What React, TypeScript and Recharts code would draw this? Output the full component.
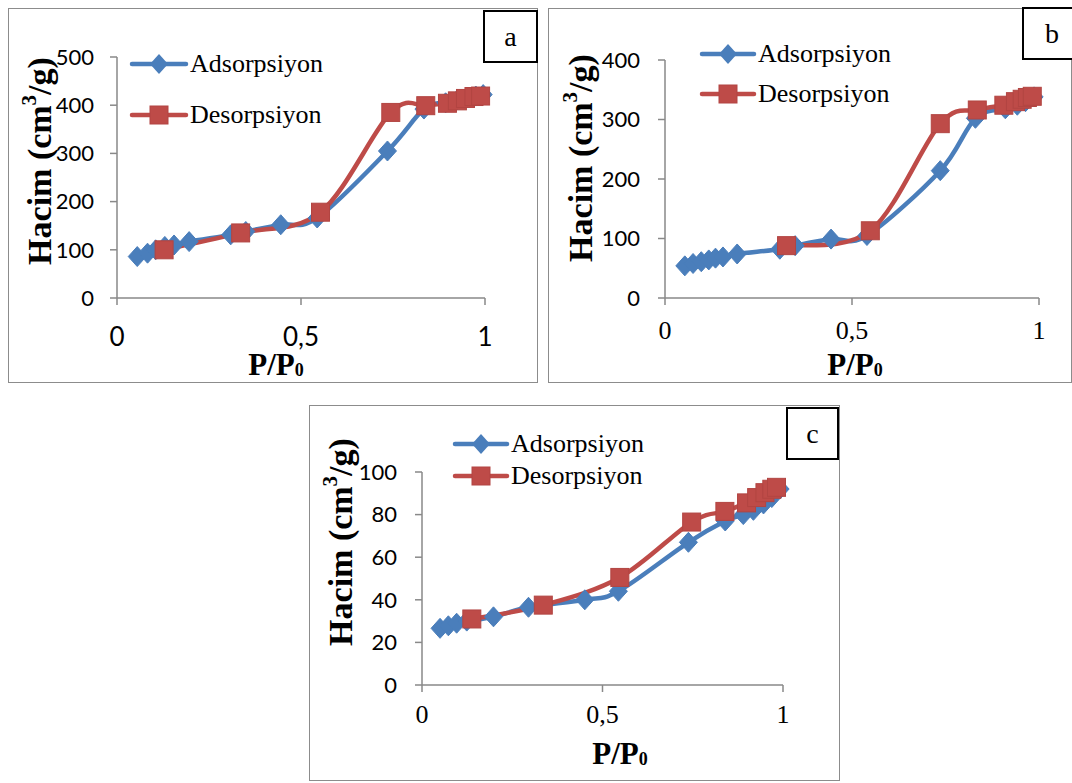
import React from 'react';
import { LineChart, Line, XAxis, YAxis, Legend } from 'recharts';

// ---------- data ----------
const xTicks = [0, 0.5, 1];
const seriesNames = ['Adsorpsiyon', 'Desorpsiyon'];
const panelLetters = ['a', 'b', 'c'];

const aYTicks = [0, 100, 200, 300, 400, 500];
const aAdsX = [0.055, 0.083, 0.105, 0.13, 0.155, 0.196, 0.309, 0.35, 0.445, 0.544, 0.735, 0.834, 0.893, 0.925, 0.952, 0.975, 0.995];
const aAdsY = [86, 93, 100, 107, 110, 117, 131, 138, 152, 166, 305, 392, 405, 411, 416, 419, 422];
const aDesX = [0.128, 0.336, 0.553, 0.744, 0.839, 0.898, 0.925, 0.947, 0.97, 0.988];
const aDesY = [100, 135, 178, 385, 399, 404, 409, 414, 418, 419];

const bYTicks = [0, 100, 200, 300, 400];
const bAdsX = [0.053, 0.075, 0.097, 0.117, 0.135, 0.155, 0.193, 0.307, 0.348, 0.444, 0.54, 0.736, 0.83, 0.91, 0.942, 0.964, 0.987];
const bAdsY = [54, 58, 61, 64, 67, 69, 74, 82, 88, 99, 105, 214, 302, 318, 324, 330, 338];
const bDesX = [0.325, 0.549, 0.736, 0.835, 0.906, 0.937, 0.955, 0.969, 0.982];
const bDesY = [88, 113, 293, 316, 324, 330, 334, 337, 339];

const cYTicks = [0, 20, 40, 60, 80, 100];
const cAdsX = [0.05, 0.073, 0.096, 0.124, 0.198, 0.295, 0.451, 0.544, 0.738, 0.84, 0.89, 0.918, 0.946, 0.969, 0.992];
const cAdsY = [26.6, 27.8, 29, 30, 32, 36.5, 40, 44, 67, 77, 80, 82, 85, 88, 92];
const cDesX = [0.138, 0.336, 0.548, 0.747, 0.839, 0.899, 0.927, 0.95, 0.969, 0.982];
const cDesY = [31, 37.5, 50.5, 76.5, 81.5, 85.5, 88, 90.3, 91.9, 92.8];

// ---------- styles ----------
const BLUE = '#4A7EBB';
const RED = '#BE4B48';
const AXIS = '#898989';
const SERIF = '"Liberation Serif", "Times New Roman", serif';
const SANS = 'Lato, "Open Sans", sans-serif';

const zip = (xs: number[], ys: number[]) => xs.map((x, i) => ({ x, y: ys[i] }));
const fmt = (v: number) => String(v).replace('.', ',');

// Excel-style smoothed line (Catmull-Rom like Bezier) as a d3 curve factory
const excelSmooth = (context: any) => {
  let pts: number[][] = [];
  return {
    areaStart() {},
    areaEnd() {},
    lineStart() {
      pts = [];
    },
    lineEnd() {
      const n = pts.length;
      if (n === 0) return;
      context.moveTo(pts[0][0], pts[0][1]);
      for (let i = 0; i < n - 1; i++) {
        const p0 = pts[Math.max(i - 1, 0)];
        const p1 = pts[i];
        const p2 = pts[i + 1];
        const p3 = pts[Math.min(i + 2, n - 1)];
        const k = 1 / 6;
        context.bezierCurveTo(
          p1[0] + (p2[0] - p0[0]) * k,
          p1[1] + (p2[1] - p0[1]) * k,
          p2[0] - (p3[0] - p1[0]) * k,
          p2[1] - (p3[1] - p1[1]) * k,
          p2[0],
          p2[1],
        );
      }
    },
    point(x: number, y: number) {
      pts.push([+x, +y]);
    },
  };
};

const Diamond = (props: any) => {
  const { cx, cy, index } = props;
  if (cx == null || cy == null) return <g key={`d${index}`} />;
  return (
    <polygon
      key={`d${index}`}
      points={`${cx},${cy - 10} ${cx + 9},${cy} ${cx},${cy + 10} ${cx - 9},${cy}`}
      fill={BLUE}
      stroke={BLUE}
      strokeWidth={1}
    />
  );
};

const Square = (props: any) => {
  const { cx, cy, index } = props;
  if (cx == null || cy == null) return <g key={`s${index}`} />;
  return <rect key={`s${index}`} x={cx - 9} y={cy - 9} width={18} height={18} fill={RED} stroke="#B24542" strokeWidth={1} />;
};

type Panel = {
  left: number; top: number; w: number; h: number;
  margin: { top: number; right: number; bottom: number; left: number };
  yMax: number; yTicks: number[];
  adsX: number[]; adsY: number[]; desX: number[]; desY: number[];
  xTickFont: string; xTickSize: number; xTickMargin: number; yTickMargin: number;
  yLabel: [number, number]; xLabel: [number, number];
  legend: { left: number; top: number; row: number; line: number };
  box: { left: number; top: number; w: number; h: number };
  letter: string;
};

const panels: Panel[] = [
  {
    left: 8, top: 8, w: 530, h: 375,
    margin: { top: 49, right: 53, bottom: 45, left: 49 },
    yMax: 500, yTicks: aYTicks,
    adsX: aAdsX, adsY: aAdsY, desX: aDesX, desY: aDesY,
    xTickFont: SANS, xTickSize: 26, xTickMargin: 23, yTickMargin: 16,
    yLabel: [31, 153], xLabel: [268, 367],
    legend: { left: 122, top: 30, row: 51, line: 58 },
    box: { left: 483, top: 10, w: 55, h: 53 },
    letter: panelLetters[0],
  },
  {
    left: 548, top: 8, w: 524, h: 375,
    margin: { top: 52, right: 33, bottom: 45, left: 57 },
    yMax: 400, yTicks: bYTicks,
    adsX: bAdsX, adsY: bAdsY, desX: bDesX, desY: bDesY,
    xTickFont: SERIF, xTickSize: 26, xTickMargin: 16, yTickMargin: 18,
    yLabel: [32, 150], xLabel: [307, 367],
    legend: { left: 152, top: 26, row: 40, line: 56 },
    box: { left: 1022, top: 7, w: 60, h: 53 },
    letter: panelLetters[1],
  },
  {
    left: 309, top: 405, w: 531, h: 376,
    margin: { top: 67, right: 57, bottom: 56, left: 53 },
    yMax: 100, yTicks: cYTicks,
    adsX: cAdsX, adsY: cAdsY, desX: cDesX, desY: cDesY,
    xTickFont: SERIF, xTickSize: 26, xTickMargin: 13, yTickMargin: 18,
    yLabel: [31, 137], xLabel: [311, 359],
    legend: { left: 144, top: 23, row: 32, line: 56 },
    box: { left: 786, top: 407, w: 53, h: 53 },
    letter: panelLetters[2],
  },
];

const LegendIcon = ({ kind, len }: { kind: number; len: number }) => {
  const c = len / 2;
  return (
    <svg width={len} height={22} style={{ display: 'block', overflow: 'visible' }}>
      <line x1={2} y1={11} x2={len - 2} y2={11} stroke={kind === 0 ? BLUE : RED} strokeWidth={4.5} strokeLinecap="round" />
      {kind === 0 ? (
        <polygon points={`${c},1 ${c + 9},11 ${c},21 ${c - 9},11`} fill={BLUE} />
      ) : (
        <rect x={c - 9} y={2} width={18} height={18} fill={RED} stroke="#B24542" />
      )}
    </svg>
  );
};

const makeLegend = (p: Panel) => () => (
  <div style={{ fontFamily: SERIF, fontSize: 26, color: '#000' }}>
    {seriesNames.map((n, i) => (
      <div key={n} style={{ display: 'flex', alignItems: 'center', height: p.legend.row, whiteSpace: 'nowrap' }}>
        <LegendIcon kind={i} len={p.legend.line} />
        <span style={{ marginLeft: 2, lineHeight: '26px' }}>{n}</span>
      </div>
    ))}
  </div>
);

const ChartPanel = ({ p }: { p: Panel }) => {
  const ads = zip(p.adsX, p.adsY);
  const des = zip(p.desX, p.desY);
  const yLab = () => (
    <text
      x={p.yLabel[0]}
      y={p.yLabel[1]}
      transform={`rotate(-90, ${p.yLabel[0]}, ${p.yLabel[1]})`}
      textAnchor="middle"
      dominantBaseline="central"
      fontFamily={SERIF}
      fontWeight="bold"
      fontSize={34}
      fill="#000"
    >
      Hacim (cm<tspan fontSize={21} dy={-10}>3</tspan><tspan dy={10}>/g)</tspan>
    </text>
  );
  const xLab = () => (
    <text x={p.xLabel[0]} y={p.xLabel[1]} textAnchor="middle" fontFamily={SERIF} fontWeight="bold" fontSize={31} fill="#000">
      P/P<tspan fontSize={18} dy={1}>0</tspan>
    </text>
  );
  return (
    <>
      <div
        style={{
          position: 'absolute', left: p.left, top: p.top, width: p.w, height: p.h,
          border: '1.5px solid #8c8c8c', boxSizing: 'border-box',
        }}
      />
      <div style={{ position: 'absolute', left: p.left, top: p.top }}>
        <LineChart width={p.w} height={p.h} margin={p.margin}>
          <XAxis
            type="number"
            dataKey="x"
            domain={[0, 1]}
            ticks={xTicks}
            tickFormatter={fmt}
            stroke={AXIS}
            strokeWidth={1.5}
            tickSize={7}
            tickMargin={p.xTickMargin}
            tick={{ fill: '#000', fontSize: p.xTickSize, fontFamily: p.xTickFont }}
            height={40}
            label={xLab}
          />
          <YAxis
            type="number"
            domain={[0, p.yMax]}
            ticks={p.yTicks}
            stroke={AXIS}
            strokeWidth={1.5}
            tickSize={7}
            tickMargin={p.yTickMargin}
            tick={{ fill: '#000', fontSize: 22, fontFamily: SANS }}
            width={60}
            label={yLab}
          />
          <Line
            data={ads}
            dataKey="y"
            name={seriesNames[0]}
            type={excelSmooth as any}
            stroke={BLUE}
            strokeWidth={4.5}
            dot={Diamond}
            activeDot={false}
            isAnimationActive={false}
          />
          <Line
            data={des}
            dataKey="y"
            name={seriesNames[1]}
            type={excelSmooth as any}
            stroke={RED}
            strokeWidth={4.5}
            dot={Square}
            activeDot={false}
            isAnimationActive={false}
          />
          <Legend
            layout="vertical"
            align="center"
            verticalAlign="middle"
            content={makeLegend(p)}
            wrapperStyle={{ left: p.legend.left, top: p.legend.top, width: 'auto', height: 'auto' }}
          />
        </LineChart>
      </div>
      <div
        style={{
          position: 'absolute', left: p.box.left, top: p.box.top, width: p.box.w, height: p.box.h,
          border: '2px solid #000', boxSizing: 'border-box', background: '#fff',
          display: 'flex', alignItems: 'center', justifyContent: 'center',
          fontFamily: SERIF, fontSize: 28, color: '#000',
        }}
      >
        {p.letter}
      </div>
    </>
  );
};

export default function App() {
  return (
    <div style={{ position: 'absolute', left: 0, top: 0, width: 1072, height: 783, overflow: 'hidden', background: '#fff' }}>
      {panels.map((p) => (
        <ChartPanel key={p.letter} p={p} />
      ))}
    </div>
  );
}
